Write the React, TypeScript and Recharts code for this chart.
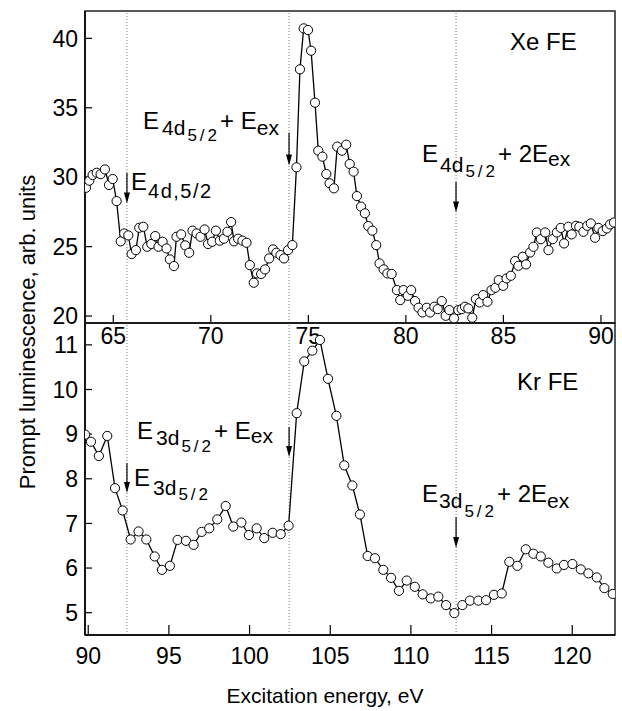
import React from "react";
import {
  LineChart,
  Line,
  XAxis,
  YAxis,
  ReferenceLine,
  ReferenceArea,
} from "recharts";

const FONT = "'Liberation Sans', Arial, Helvetica, sans-serif";

// Xe FE: excitation energy (eV) and prompt luminescence
const xeEnergy = [
  63.6, 63.77, 63.94, 64.15, 64.35, 64.57, 64.78, 64.97, 65.17, 65.38,
  65.56, 65.77, 65.94, 66.16, 66.33, 66.54, 66.74, 66.95, 67.15, 67.32,
  67.53, 67.73, 67.9, 68.11, 68.24, 68.48, 68.69, 68.89, 69.06, 69.27,
  69.47, 69.68, 69.86, 70.07, 70.26, 70.46, 70.67, 70.85, 71.04, 71.19,
  71.4, 71.62, 71.83, 72.0, 72.2, 72.37, 72.58, 72.78, 72.99, 73.19,
  73.36, 73.57, 73.75, 73.96, 74.18, 74.39, 74.57, 74.76, 74.98, 75.14,
  75.34, 75.51, 75.72, 75.92, 76.09, 76.31, 76.48, 76.72, 76.94, 77.12,
  77.32, 77.49, 77.7, 77.9, 78.07, 78.28, 78.48, 78.65, 78.86, 79.05,
  79.27, 79.54, 79.71, 79.88, 80.1, 80.27, 80.47, 80.65, 80.85, 81.07,
  81.24, 81.46, 81.63, 81.84, 82.04, 82.23, 82.47, 82.69, 82.86, 83.03,
  83.2, 83.4, 83.59, 83.79, 83.96, 84.18, 84.39, 84.59, 84.76, 84.99,
  85.16, 85.38, 85.6, 85.77, 85.99, 86.16, 86.37, 86.54, 86.71, 86.92,
  87.14, 87.31, 87.53, 87.74, 87.94, 88.11, 88.33, 88.5, 88.72, 88.89,
  89.1, 89.3, 89.48, 89.7, 89.87, 90.09, 90.3, 90.47, 90.67,
];
const xeSignal = [
  29.24, 29.75, 30.16, 30.32, 30.22, 30.56, 29.44, 29.87, 28.28, 25.38,
  25.95, 25.81, 24.47, 24.75, 26.36, 26.43, 24.99, 25.19, 25.76, 24.99,
  25.35, 24.87, 24.08, 23.6, 25.71, 25.88, 25.09, 24.56, 26.15, 25.95,
  25.71, 26.24, 25.19, 25.35, 26.15, 25.43, 25.57, 26.07, 26.77, 25.38,
  25.57, 25.43, 25.28, 23.67, 22.4, 23.07, 23.03, 23.36, 24.15, 24.8,
  24.56, 24.39, 24.15, 24.75, 25.11, 30.71, 37.77, 40.72, 40.6, 39.11,
  35.37, 31.91, 31.48, 30.23, 29.56, 29.2, 32.2, 31.91, 32.34, 30.95,
  30.4, 28.64, 27.88, 27.4, 26.48, 26.15, 25.11, 23.79, 23.36, 23.07,
  23.03, 21.87, 21.15, 21.87, 21.46, 21.87, 21.08, 20.6, 20.26, 20.6,
  20.26, 20.67, 20.5, 21.08, 20.02, 20.43, 19.83, 20.43, 20.5, 20.67,
  20.55, 19.88, 21.22, 20.98, 21.51, 21.03, 21.87, 22.04, 22.59, 22.18,
  22.71, 22.9, 23.96, 23.62, 24.27, 23.72, 24.58, 24.99, 26.02, 25.54,
  26.02, 24.75, 25.54, 26.02, 26.35, 25.23, 26.43, 25.88, 26.5, 26.43,
  26.07, 26.5, 26.67, 25.64, 26.35, 26.12, 26.31, 26.6, 26.74,
];

// Kr FE
const krEnergy = [
  89.8, 90.17, 90.66, 91.18, 91.66, 92.13, 92.63, 93.12, 93.6, 94.12,
  94.57, 95.06, 95.54, 96.06, 96.53, 97.03, 97.5, 98.0, 98.52, 98.99,
  99.49, 99.96, 100.44, 100.91, 101.43, 101.93, 102.42, 102.92, 103.39, 103.89,
  104.36, 104.86, 105.38, 105.87, 106.37, 106.84, 107.32, 107.77, 108.29, 108.77,
  109.26, 109.74, 110.24, 110.73, 111.23, 111.7, 112.18, 112.69, 113.19, 113.66,
  114.18, 114.66, 115.15, 115.63, 116.1, 116.6, 117.12, 117.59, 118.05, 118.52,
  119.04, 119.49, 120.01, 120.53, 121.0, 121.52, 121.99, 122.51,
];
const krSignal = [
  8.99, 8.83, 8.51, 8.96, 7.79, 7.29, 6.64, 6.82, 6.64, 6.26,
  5.96, 6.05, 6.63, 6.61, 6.52, 6.81, 6.89, 7.09, 7.39, 6.93,
  7.02, 6.74, 6.89, 6.67, 6.79, 6.76, 6.95, 9.47, 10.63, 10.87,
  11.11, 10.24, 9.41, 8.3, 7.85, 7.2, 6.27, 6.22, 5.96, 5.78,
  5.49, 5.72, 5.58, 5.41, 5.32, 5.36, 5.17, 4.99, 5.17, 5.27,
  5.27, 5.28, 5.4, 5.43, 6.14, 6.05, 6.42, 6.32, 6.26, 6.12,
  5.99, 6.07, 6.09, 5.97, 5.88, 5.79, 5.55, 5.42,
];

const xeTicksX = [65, 70, 75, 80, 85, 90];
const xeTicksY = [20, 25, 30, 35, 40];
const krTicksX = [90, 95, 100, 105, 110, 115, 120];
const krTicksY = [5, 6, 7, 8, 9, 10, 11];

// thresholds (dotted lines) and arrows [x, yTop, yBottom]
const xeMarks = [65.7, 74.01, 82.57];
const xeArrows = [
  [65.7, 30.3, 28.1],
  [74.01, 33.2, 30.85],
  [82.57, 29.65, 27.45],
];
const krMarks = [92.4, 102.45, 112.8];
const krArrows = [
  [92.4, 8.35, 7.68],
  [102.45, 9.16, 8.49],
  [112.8, 7.14, 6.45],
];

const xeDomainX = [63.55, 90.72];
const xeDomainY = [19.5, 41.97];
const krDomainX = [89.8, 122.65];
const krDomainY = [4.5, 11.49];

const xeData = xeEnergy.map((e, i) => ({ e, v: xeSignal[i] }));
const krData = krEnergy.map((e, i) => ({ e, v: krSignal[i] }));

const tickStyle = { fill: "#000", fontSize: 23, fontFamily: FONT };

const Arrow = (p: any) => {
  const { x1, y1, x2, y2 } = p;
  return (
    <g>
      <line x1={x1} y1={y1} x2={x2} y2={y2 - 8} stroke="#000" strokeWidth={1.2} />
      <polygon
        points={`${x2 - 3},${y2 - 11} ${x2 + 3},${y2 - 11} ${x2},${y2}`}
        fill="#000"
      />
    </g>
  );
};

const dot = { r: 4.6, fill: "#fff", stroke: "#000", strokeWidth: 1 };

const Panel = ({
  data,
  domX,
  domY,
  ticksX,
  ticksY,
  marks,
  arrows,
  height,
  margin,
  xTick,
  xMargin,
}: any) => (
  <LineChart width={622} height={height} data={data} margin={margin}>
    <XAxis
      dataKey="e"
      type="number"
      domain={domX}
      ticks={ticksX}
      allowDataOverflow
      height={30}
      tick={tickStyle}
      tickSize={xTick}
      tickMargin={xMargin}
      stroke="#000"
      tickLine={{ stroke: "#000", strokeWidth: 1.2 }}
      axisLine={{ stroke: "#000", strokeWidth: 1.5 }}
    />
    <YAxis
      type="number"
      domain={domY}
      ticks={ticksY}
      allowDataOverflow
      width={85}
      tick={tickStyle}
      tickSize={-7}
      tickMargin={14}
      stroke="#000"
      tickLine={{ stroke: "#000", strokeWidth: 1.2 }}
      axisLine={{ stroke: "#000", strokeWidth: 1.5 }}
    />
    <ReferenceArea
      x1={domX[0]}
      x2={domX[1]}
      y1={domY[0]}
      y2={domY[1]}
      fill="none"
      stroke="#222"
      strokeWidth={1.5}
    />
    {marks.map((m: number) => (
      <ReferenceLine
        key={m}
        x={m}
        stroke="#777"
        strokeWidth={1}
        strokeDasharray="1 2"
      />
    ))}
    {arrows.map((a: number[]) => (
      <ReferenceLine
        key={"a" + a[0]}
        segment={[
          { x: a[0], y: a[1] },
          { x: a[0], y: a[2] },
        ]}
        stroke="#000"
        shape={Arrow}
      />
    ))}
    <Line
      dataKey="v"
      stroke="#000"
      strokeWidth={1.3}
      dot={dot}
      isAnimationActive={false}
    />
  </LineChart>
);

const T = (props: any) => (
  <text fontFamily={FONT} fill="#000" fontSize={24} {...props} />
);

export default function App() {
  return (
    <div
      style={{
        position: "absolute",
        left: 0,
        top: 0,
        width: 622,
        height: 711,
        background: "#fff",
      }}
    >
      <div style={{ position: "absolute", left: 0, top: 0 }}>
        <Panel
          data={xeData}
          domX={xeDomainX}
          domY={xeDomainY}
          ticksX={xeTicksX}
          ticksY={xeTicksY}
          marks={xeMarks}
          arrows={xeArrows}
          height={353}
          margin={{ top: 11, right: 7, bottom: 0, left: 0 }}
          xTick={-8}
          xMargin={13}
        />
      </div>
      <div style={{ position: "absolute", left: 0, top: 300 }}>
        <Panel
          data={krData}
          domX={krDomainX}
          domY={krDomainY}
          ticksX={krTicksX}
          ticksY={krTicksY}
          marks={krMarks}
          arrows={krArrows}
          height={411}
          margin={{ top: 23, right: 7, bottom: 46, left: 0 }}
          xTick={-10}
          xMargin={23}
        />
      </div>
      <svg
        width={622}
        height={711}
        style={{ position: "absolute", left: 0, top: 0, pointerEvents: "none" }}
      >
        <T x={510} y={50}>Xe FE</T>
        <T x={517} y={390}>Kr FE</T>

        <T x={143} y={129}>
          E<tspan dx={3} dy={6} fontSize={21}>4d</tspan>
          <tspan dx={2} dy={6} fontSize={17} letterSpacing={3}>5/2</tspan>
          <tspan dy={-12}>+ E</tspan>
          <tspan dy={6} fontSize={21}>ex</tspan>
        </T>
        <T x={131} y={190}>
          E<tspan dx={1} dy={8} fontSize={20} letterSpacing={1.5}>4d,5/2</tspan>
        </T>
        <T x={422} y={162}>
          E<tspan dx={2} dy={10} fontSize={21}>4d</tspan>
          <tspan dx={2} dy={5} fontSize={17} letterSpacing={3}>5/2</tspan>
          <tspan dy={-15}>+ 2E</tspan>
          <tspan dy={4} fontSize={21}>ex</tspan>
        </T>

        <T x={137} y={439}>
          E<tspan dx={3} dy={6} fontSize={21}>3d</tspan>
          <tspan dx={2} dy={7} fontSize={17} letterSpacing={3}>5/2</tspan>
          <tspan dy={-13}>+ E</tspan>
          <tspan dy={4} fontSize={21}>ex</tspan>
        </T>
        <T x={134} y={486}>
          E<tspan dx={3} dy={9} fontSize={21}>3d</tspan>
          <tspan dx={2} dy={5} fontSize={17} letterSpacing={3}>5/2</tspan>
        </T>
        <T x={422} y={502}>
          E<tspan dx={1} dy={6} fontSize={21}>3d</tspan>
          <tspan dx={2} dy={9} fontSize={17} letterSpacing={3}>5/2</tspan>
          <tspan dy={-15}>+ 2E</tspan>
          <tspan dy={6} fontSize={21}>ex</tspan>
        </T>

        <T x={325} y={703} fontSize={21} textAnchor="middle">
          Excitation energy, eV
        </T>
        <T
          x={0}
          y={0}
          fontSize={22}
          textAnchor="middle"
          transform="translate(35,332) rotate(-90)"
        >
          Prompt luminescence, arb. units
        </T>
      </svg>
    </div>
  );
}
